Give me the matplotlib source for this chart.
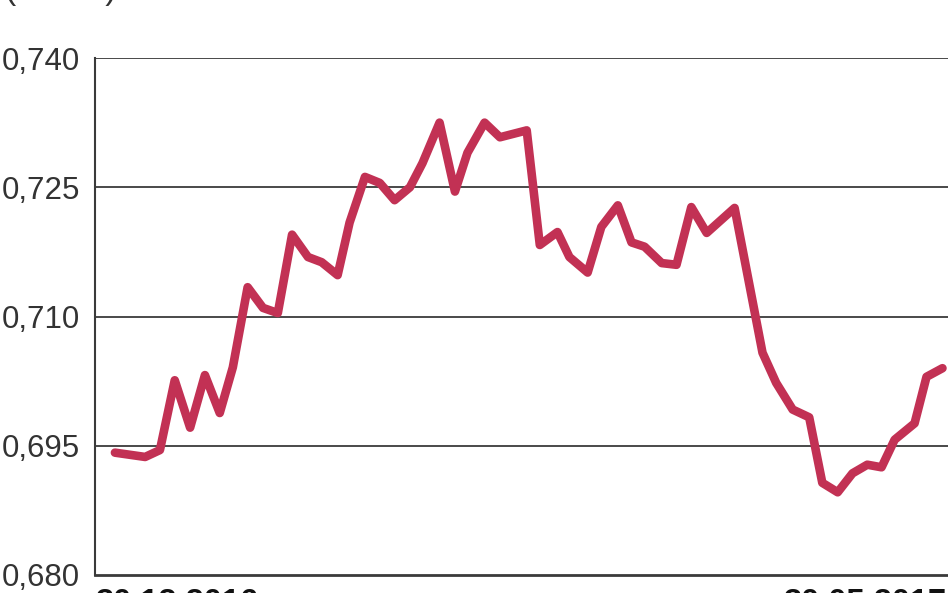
import matplotlib.pyplot as plt

# Dni od 30.12.2016 i kurs
dni = [3.5, 8.8, 11.4, 14.0, 16.7, 19.3, 21.9, 24.2, 26.8, 29.5, 32.1, 34.6,
       37.4, 39.8, 42.6, 44.7, 47.4, 50.0, 52.6, 55.3, 57.5, 60.5, 63.2, 65.4,
       68.4, 71.1, 75.8, 78.1, 81.2, 83.3, 86.5, 88.9, 91.8, 94.2, 96.5, 99.5,
       102.1, 104.7, 107.4, 112.3, 117.2, 119.6, 122.5, 125.4, 127.7, 130.4,
       133.0, 135.6, 138.1, 140.4, 143.9, 146.0, 148.8]
kurs = [0.6942, 0.6937, 0.6945, 0.7026, 0.6971, 0.7032, 0.6988, 0.7041, 0.7134,
        0.7110, 0.7104, 0.7195, 0.7169, 0.7163, 0.7148, 0.7209, 0.7262, 0.7255,
        0.7235, 0.7250, 0.7278, 0.7325, 0.7245, 0.7290, 0.7325, 0.7308, 0.7316,
        0.7183, 0.7198, 0.7169, 0.7151, 0.7204, 0.7229, 0.7186, 0.7181, 0.7162,
        0.7160, 0.7227, 0.7197, 0.7226, 0.7058, 0.7023, 0.6992, 0.6983, 0.6907,
        0.6896, 0.6918, 0.6928, 0.6925, 0.6957, 0.6976, 0.7030, 0.7040]
poziomy = [0.680, 0.695, 0.710, 0.725, 0.740]
etykiety_y = ["0,680", "0,695", "0,710", "0,725", "0,740"]
data_start = "30.12.2016"
data_koniec = "30.05.2017"

czcionka = "Liberation Sans"

fig = plt.figure(figsize=(9.48, 5.93), dpi=100)
ax = fig.add_axes([95 / 948, 18 / 593, 860 / 948, 517 / 593])

for p in poziomy[1:]:
    ax.axhline(p, color="#3a3a3a", lw=1.3, zorder=1)

ax.plot(dni, kurs, color="#C23154", lw=6.2, solid_joinstyle="round",
        solid_capstyle="round", zorder=3)

ax.set_xlim(0, 151)
ax.set_ylim(0.680, 0.740)
ax.set_yticks(poziomy)
ax.set_yticklabels(etykiety_y, fontfamily=czcionka, fontsize=22.5, color="#333333")
ax.tick_params(axis="y", length=0, pad=11)
ax.set_xticks([])
for s in ["top", "right"]:
    ax.spines[s].set_visible(False)
ax.spines["left"].set_color("#3a3a3a")
ax.spines["left"].set_linewidth(1.5)
ax.spines["bottom"].set_color("#3a3a3a")
ax.spines["bottom"].set_linewidth(2.0)

fig.text(95 / 948, 1 - 588 / 593, data_start, fontfamily=czcionka, fontsize=23.5,
         fontweight="bold", va="top", ha="left", color="#111111")
fig.text(783 / 948, 1 - 588 / 593, data_koniec, fontfamily=czcionka, fontsize=23.5,
         fontweight="bold", va="top", ha="left", color="#111111")
fig.text(5 / 948, 1 + 1 / 593, "( USD )", fontfamily=czcionka, fontsize=24,
         va="baseline", ha="left", color="#333333")

fig.savefig("out.png", dpi=100)
